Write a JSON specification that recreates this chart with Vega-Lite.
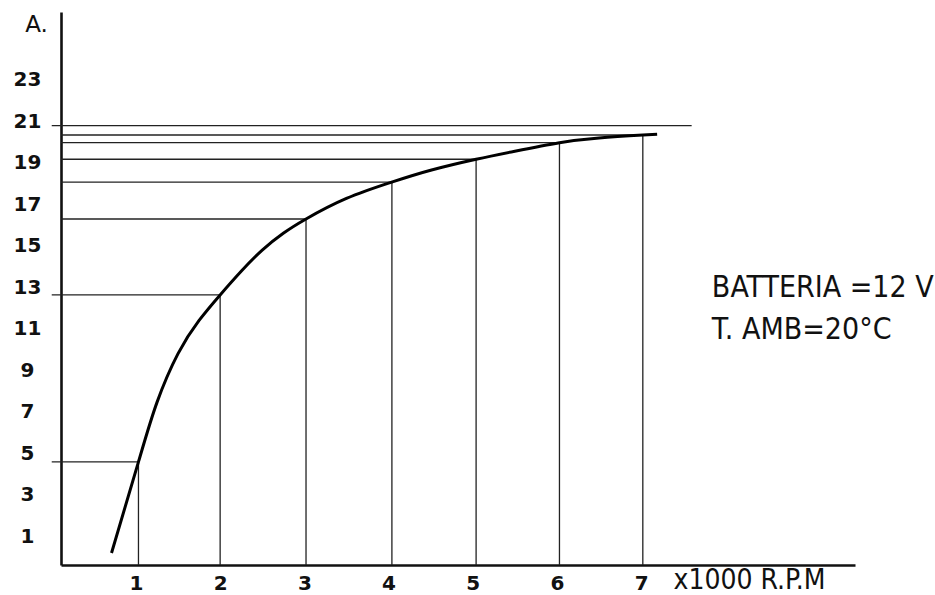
{
  "$schema": "https://vega.github.io/schema/vega-lite/v6.json",
  "width": 794,
  "height": 553,
  "autosize": {"type": "none"},
  "padding": {"left": 61, "top": 12, "right": 80, "bottom": 30},
  "background": "white",
  "config": {
    "view": {"stroke": null},
    "axis": {
      "grid": false,
      "ticks": false,
      "tickSize": 0,
      "domainColor": "#111",
      "domainWidth": 2.6,
      "labelFont": "DejaVu Sans",
      "labelFontWeight": "bold",
      "labelFontSize": 20,
      "labelColor": "#111",
      "titleColor": "#111"
    }
  },
  "datasets": {
    "hlines": [
      {"x0": 0, "x1": 1.03, "y": 4.58},
      {"x0": 0, "x1": 2.0, "y": 12.63},
      {"x0": 0.11, "x1": 3.02, "y": 16.29},
      {"x0": 0.11, "x1": 4.04, "y": 18.07},
      {"x0": 0.11, "x1": 5.04, "y": 19.17},
      {"x0": 0.11, "x1": 6.03, "y": 19.97},
      {"x0": 0.11, "x1": 7.02, "y": 20.34},
      {"x0": 0, "x1": 7.6, "y": 20.79}
    ],
    "vlines": [
      {"x": 1.03, "y": 4.58},
      {"x": 2.0, "y": 12.63},
      {"x": 3.02, "y": 16.29},
      {"x": 4.04, "y": 18.07},
      {"x": 5.04, "y": 19.17},
      {"x": 6.03, "y": 19.97},
      {"x": 7.02, "y": 20.34}
    ],
    "curve": [
      {"rpm": 0.71, "amp": 0.19},
      {"rpm": 1.03, "amp": 4.58},
      {"rpm": 1.25, "amp": 7.45},
      {"rpm": 1.5, "amp": 9.8},
      {"rpm": 1.75, "amp": 11.4},
      {"rpm": 2.0, "amp": 12.63},
      {"rpm": 2.25, "amp": 13.77},
      {"rpm": 2.5, "amp": 14.79},
      {"rpm": 2.75, "amp": 15.6},
      {"rpm": 3.02, "amp": 16.29},
      {"rpm": 3.5, "amp": 17.28},
      {"rpm": 4.04, "amp": 18.07},
      {"rpm": 4.5, "amp": 18.64},
      {"rpm": 5.04, "amp": 19.17},
      {"rpm": 5.5, "amp": 19.56},
      {"rpm": 6.03, "amp": 19.97},
      {"rpm": 6.5, "amp": 20.2},
      {"rpm": 7.02, "amp": 20.34},
      {"rpm": 7.19, "amp": 20.38}
    ],
    "notes": [
      {"x": 7.84, "y": 12.53, "text": "BATTERIA =12 V"},
      {"x": 7.84, "y": 10.51, "text": "T. AMB=20°C"}
    ]
  },
  "encoding": {
    "x": {
      "type": "quantitative",
      "scale": {"domain": [0.11, 9.54], "nice": false, "zero": false},
      "axis": {
        "values": [1, 2, 3, 4, 5, 6, 7],
        "labelPadding": 8,
        "title": "x1000 R.P.M",
        "titleFont": "DejaVu Sans Condensed",
        "titleFontWeight": "normal",
        "titleFontSize": 28,
        "titleAlign": "left",
        "titleAnchor": "start",
        "titleBaseline": "bottom",
        "titleX": 612,
        "titleY": 29
      }
    },
    "y": {
      "type": "quantitative",
      "scale": {"domain": [-0.39, 26.27], "nice": false, "zero": false},
      "axis": {
        "values": [1, 3, 5, 7, 9, 11, 13, 15, 17, 19, 21, 23],
        "labelAlign": "center",
        "labelPadding": 34,
        "title": "A.",
        "titleAngle": 0,
        "titleAlign": "center",
        "titleBaseline": "middle",
        "titleX": -25,
        "titleY": 12,
        "titleFont": "DejaVu Sans",
        "titleFontWeight": "normal",
        "titleFontSize": 23
      }
    }
  },
  "layer": [
    {
      "data": {"name": "hlines"},
      "mark": {"type": "rule", "color": "#222", "strokeWidth": 1.3},
      "encoding": {
        "x": {"field": "x0"},
        "x2": {"field": "x1"},
        "y": {"field": "y"}
      }
    },
    {
      "data": {"name": "vlines"},
      "mark": {"type": "rule", "color": "#222", "strokeWidth": 1.3},
      "encoding": {
        "x": {"field": "x"},
        "y": {"field": "y"},
        "y2": {"datum": -0.39}
      }
    },
    {
      "data": {"name": "curve"},
      "mark": {"type": "line", "color": "#000", "strokeWidth": 3, "interpolate": "natural"},
      "encoding": {
        "x": {"field": "rpm"},
        "y": {"field": "amp"}
      }
    },
    {
      "data": {"name": "notes"},
      "mark": {"type": "text", "align": "left", "baseline": "alphabetic", "font": "DejaVu Sans Condensed", "fontSize": 30, "color": "#111"},
      "encoding": {
        "x": {"field": "x"},
        "y": {"field": "y"},
        "text": {"field": "text"}
      }
    }
  ]
}
